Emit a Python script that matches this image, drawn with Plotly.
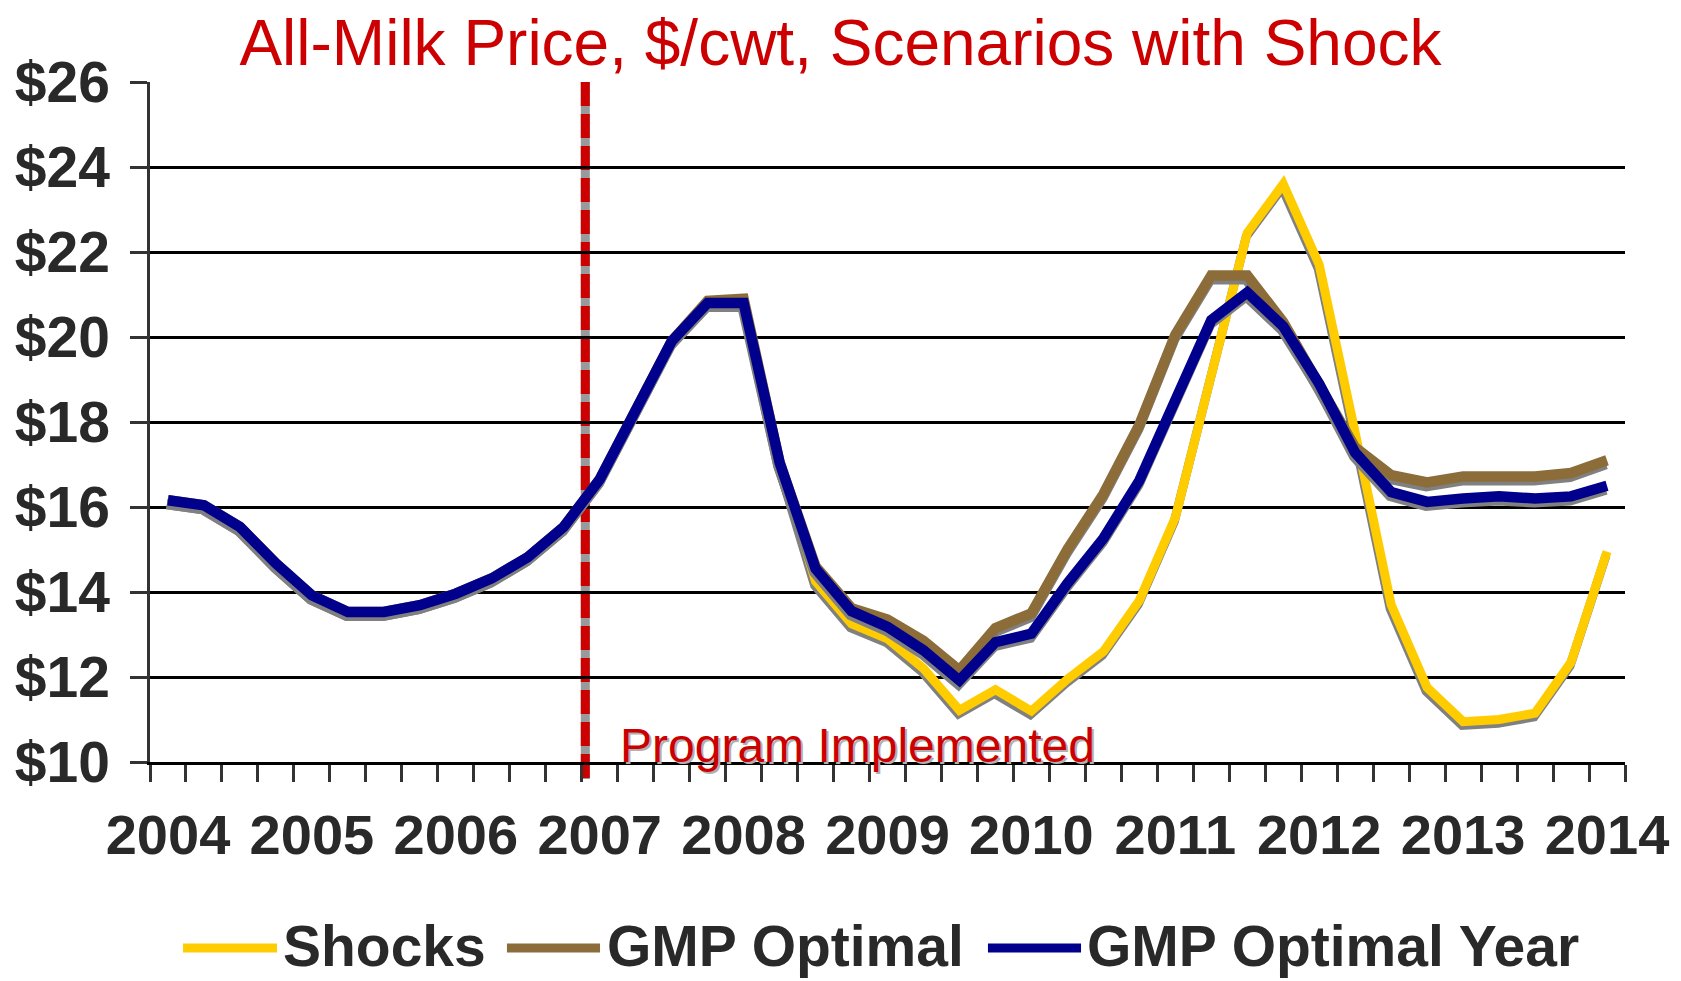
import plotly.graph_objects as go

# quarterly points, 2004 Q1 .. 2014 Q1
quarters = [2004 + q / 4 for q in range(41)]
years = list(range(2004, 2015))
price_ticks = list(range(10, 27, 2))

shocks = [16.16, 16.04, 15.53, 14.67, 13.92, 13.53, 13.53, 13.69, 13.96, 14.32,
          14.82, 15.53, 16.65, 18.25, 19.90, 20.80, 20.80, 17.05, 14.25, 13.25,
          12.90, 12.20, 11.22, 11.70, 11.20, 11.95, 12.60, 13.80, 15.75, 19.10,
          22.45, 23.60, 21.70, 17.75, 13.70, 11.75, 10.95, 11.00, 11.15, 12.35, 14.95]
gmp_optimal = [16.16, 16.04, 15.53, 14.67, 13.92, 13.53, 13.53, 13.69, 13.96, 14.32,
               14.82, 15.53, 16.65, 18.25, 19.90, 20.85, 20.90, 17.05, 14.60, 13.62,
               13.35, 12.85, 12.16, 13.15, 13.50, 15.00, 16.30, 17.93, 20.05, 21.45,
               21.45, 20.35, 18.85, 17.40, 16.75, 16.58, 16.72, 16.72, 16.72, 16.80, 17.10]
gmp_optimal_year = [16.16, 16.04, 15.53, 14.67, 13.92, 13.53, 13.53, 13.69, 13.96, 14.32,
                    14.82, 15.53, 16.65, 18.25, 19.90, 20.80, 20.80, 17.05, 14.55, 13.55,
                    13.18, 12.63, 11.92, 12.82, 13.02, 14.20, 15.26, 16.62, 18.55, 20.40,
                    21.05, 20.25, 18.90, 17.28, 16.35, 16.12, 16.20, 16.25, 16.20, 16.25, 16.50]

program_start = 2006.9

series = [
    ("Shocks", shocks, "#FFCC00", 9),
    ("GMP Optimal", gmp_optimal, "#8C6D3A", 10.5),
    ("GMP Optimal Year", gmp_optimal_year, "#00008C", 10.5),
]

FONT = "Liberation Sans, Arial, sans-serif"
TEXT = "#292929"
RED = "#CC0000"

fig = go.Figure()
for name, vals, color, width in series:
    # soft drop shadow, a few pixels down/left of each line
    fig.add_trace(go.Scatter(
        x=[q - 0.007 for q in quarters], y=[v - 0.09 for v in vals],
        mode="lines", line=dict(color="#808080", width=width),
        showlegend=False, hoverinfo="skip"))
    fig.add_trace(go.Scatter(
        x=quarters, y=vals, name=name, mode="lines",
        line=dict(color=color, width=width), showlegend=False))

# vertical marker for program start
fig.add_shape(type="line", xref="x", yref="paper", x0=program_start, x1=program_start,
              y0=1, y1=-0.025, line=dict(color="#9a9a9a", width=9), layer="between")
fig.add_shape(type="line", xref="x", yref="paper", x0=program_start, x1=program_start,
              y0=1, y1=-0.025, line=dict(color=RED, width=9, dash="24px,8px"), layer="between")

for dx, dy, col in [(2, -2, "#b0b0b0"), (0, 0, RED)]:
    fig.add_annotation(text="Program Implemented", xref="paper", yref="paper",
                       x=0.317, y=0.024, xanchor="left", yanchor="middle",
                       xshift=dx, yshift=dy, showarrow=False,
                       font=dict(family=FONT, size=48, color=col))

# hand-drawn legend with long line samples
legend_pos = [(0.0224, 0.0861, 0.0929), (0.2420, 0.3051, 0.3125), (0.5681, 0.6312, 0.6380)]
for (name, vals, color, width), (lx0, lx1, tx) in zip(series, legend_pos):
    fig.add_shape(type="line", xref="paper", yref="paper", x0=lx0, x1=lx1,
                  y0=-0.2735, y1=-0.2735, line=dict(color=color, width=9))
    fig.add_annotation(text=name, xref="paper", yref="paper", x=tx - 0.004, y=-0.2706,
                       xanchor="left", yanchor="middle", showarrow=False,
                       font=dict(family=FONT, size=57, color=TEXT, weight="bold"))

fig.update_layout(
    width=1673, height=973,
    margin=dict(l=142, r=56, t=74, b=219),
    paper_bgcolor="white", plot_bgcolor="white",
    showlegend=False,
    title=dict(text="All-Milk Price, $/cwt, Scenarios with Shock",
               x=0.4976, xref="container", xanchor="center",
               y=0.964, yref="container", yanchor="middle",
               font=dict(family=FONT, size=64, color=RED)),
    xaxis=dict(
        range=[2003.875, 2014.125], automargin=False,
        tickmode="array", tickvals=years, ticktext=[str(y) for y in years],
        ticks="", ticklabelstandoff=22,
        tickfont=dict(family=FONT, size=56, color=TEXT, weight="bold"),
        minor=dict(tickmode="array", tickvals=[q - 0.125 for q in quarters] + [2014.125],
                   ticks="outside", ticklen=17, tickwidth=2.5, tickcolor="#333333",
                   showgrid=False),
        showgrid=False, zeroline=False,
        showline=True, linecolor="black", linewidth=2.5,
    ),
    yaxis=dict(
        range=[10, 26], automargin=False,
        tickmode="array", tickvals=price_ticks,
        ticktext=["$" + str(p) for p in price_ticks],
        ticks="outside", ticklen=17, tickwidth=2.5, tickcolor="#333333",
        ticklabelstandoff=9,
        tickfont=dict(family=FONT, size=57, color=TEXT, weight="bold"),
        showgrid=True, gridcolor="black", gridwidth=2.5, zeroline=False,
        showline=True, linecolor="#333333", linewidth=2.5,
    ),
)

fig.write_html("out.html")
